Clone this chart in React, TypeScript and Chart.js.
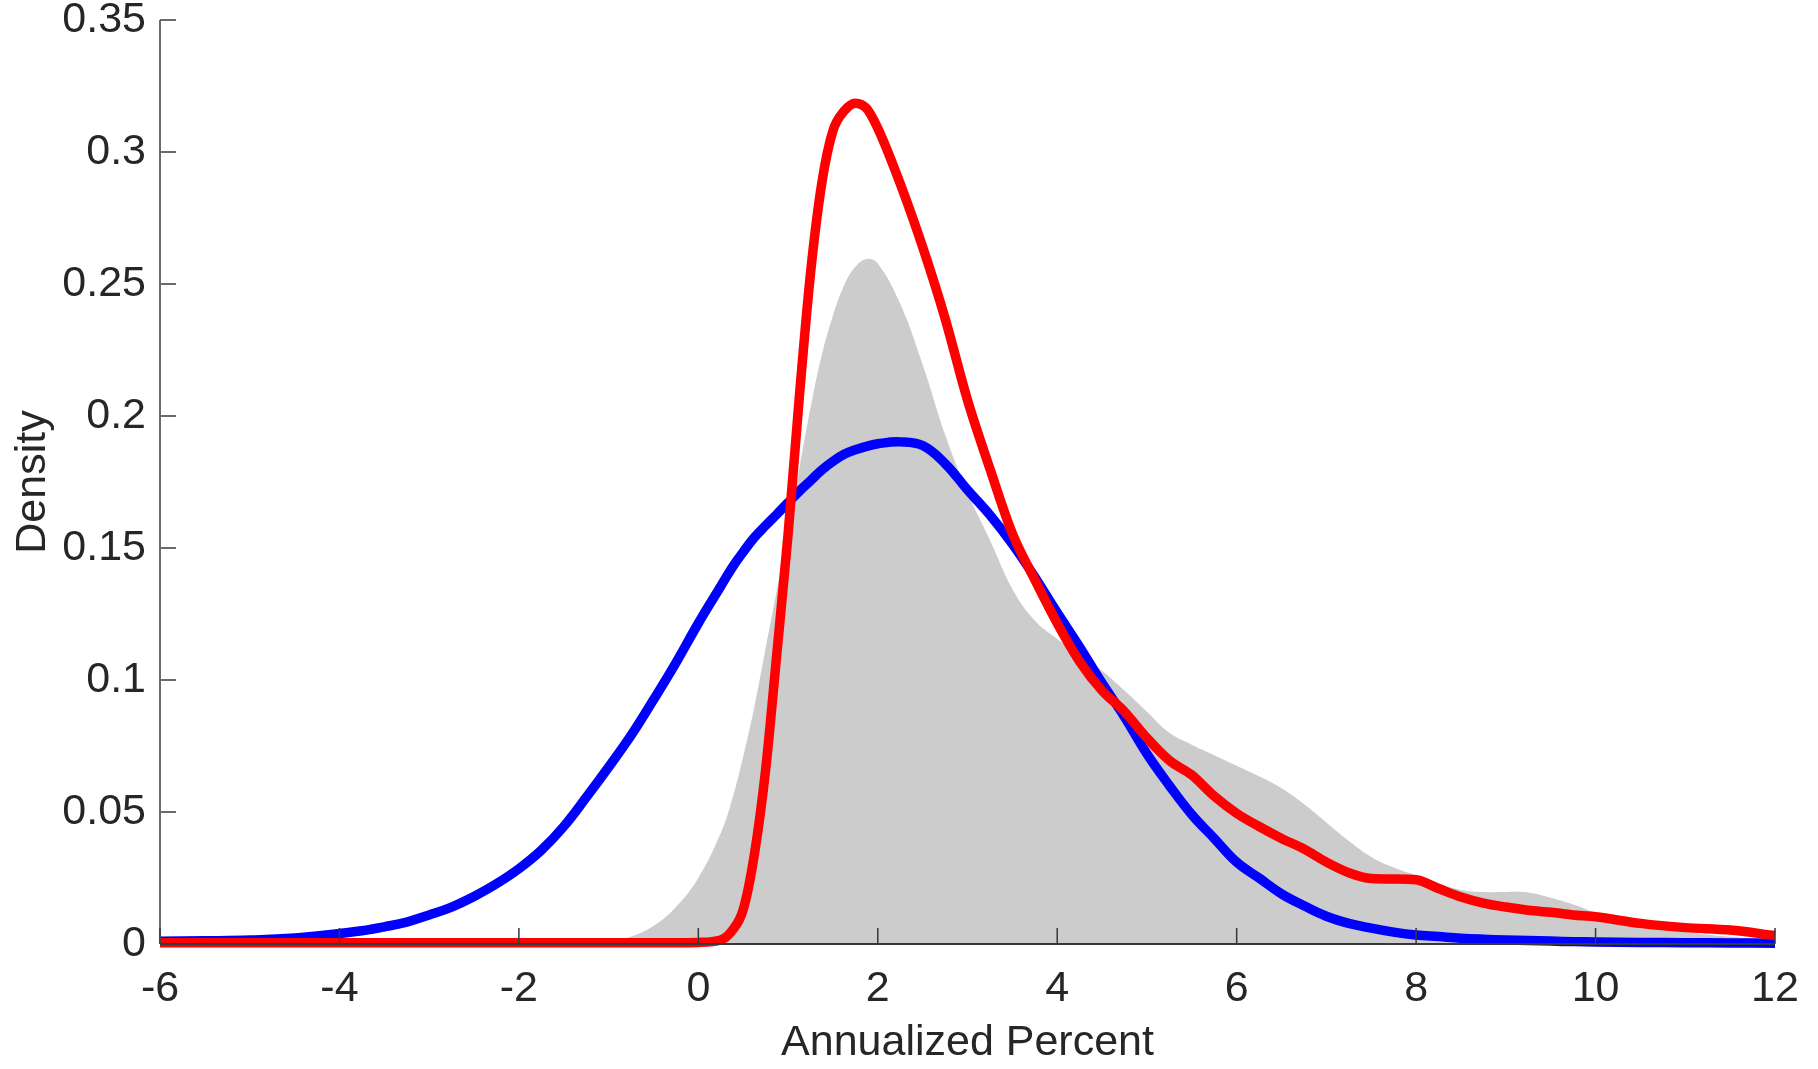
import React, { useEffect, useRef } from "react";
import { Chart, registerables } from "chart.js";

Chart.register(...registerables);

const xValues = [
  -6, -5.5, -5, -4.5,
  -4, -3.75, -3.5, -3.25, -3, -2.75, -2.5, -2.25, -2, -1.75, -1.5, -1.25,
  -1, -0.75, -0.5, -0.25, 0, 0.25,
  0.375, 0.5, 0.625, 0.75, 0.875, 1, 1.125, 1.25, 1.375, 1.5, 1.625, 1.75, 1.875,
  2, 2.25, 2.5, 2.75, 3, 3.25, 3.5, 3.75, 4, 4.25, 4.5, 4.75, 5, 5.25, 5.5, 5.75,
  6, 6.25, 6.5, 6.75, 7, 7.25, 7.5, 7.75, 8, 8.25, 8.5, 8.75, 9, 9.25, 9.5, 9.75, 10,
  10.5, 11, 11.5, 12,
];

const grayDensity = [
  0, 0, 0, 0,
  0, 0, 0, 0, 0, 0, 0, 0, 0, 0, 0.0001, 0.0003,
  0.0009, 0.0028, 0.0068, 0.014, 0.025, 0.042,
  0.0545, 0.071, 0.09, 0.112, 0.134, 0.156, 0.18, 0.203, 0.223, 0.238, 0.2495, 0.2565, 0.2595,
  0.2578, 0.2425, 0.2195, 0.193, 0.171, 0.153, 0.1345, 0.1225, 0.1155, 0.1095, 0.1035, 0.096, 0.088, 0.08, 0.0755, 0.0715,
  0.0675, 0.0635, 0.059, 0.053, 0.046, 0.039, 0.033, 0.029, 0.026, 0.023, 0.0205, 0.0197, 0.0197, 0.0195, 0.0175, 0.015, 0.012,
  0.0075, 0.0045, 0.0027, 0.0015,
];

const blueDensity = [
  0.001, 0.0012, 0.0015, 0.0023,
  0.004, 0.005, 0.0065, 0.0083, 0.011, 0.014, 0.018, 0.0228, 0.0285, 0.0355, 0.0445, 0.0555,
  0.067, 0.079, 0.0925, 0.1065, 0.1215, 0.1355,
  0.1425, 0.1485, 0.154, 0.1585, 0.1628, 0.1672, 0.1715, 0.1755, 0.1795, 0.1828, 0.1855, 0.1872, 0.1885,
  0.1895, 0.1902, 0.1888, 0.182, 0.172, 0.1625, 0.1515, 0.139, 0.1255, 0.1125, 0.0988, 0.086, 0.072, 0.06, 0.049, 0.04,
  0.031, 0.025, 0.019, 0.0145, 0.0105, 0.0078, 0.006, 0.0045, 0.0034, 0.0028, 0.0022, 0.0018, 0.0015, 0.0013, 0.0011, 0.0009, 0.0008,
  0.0006, 0.0005, 0.0004, 0.0003,
];

const redDensity = [
  0.0005, 0.0005, 0.0005, 0.0005,
  0.0005, 0.0005, 0.0005, 0.0005, 0.0005, 0.0005, 0.0005, 0.0005, 0.0005, 0.0005, 0.0005, 0.0005,
  0.0005, 0.0005, 0.0005, 0.0005, 0.0006, 0.0015,
  0.005, 0.013, 0.034, 0.066, 0.11, 0.155, 0.207, 0.254, 0.288, 0.308, 0.3155, 0.3185, 0.3165,
  0.309, 0.288, 0.264, 0.237, 0.206, 0.18, 0.1555, 0.138, 0.1215, 0.107, 0.096, 0.088, 0.078, 0.0695, 0.064, 0.056,
  0.0495, 0.0445, 0.04, 0.036, 0.031, 0.027, 0.0248, 0.0246, 0.0243, 0.021, 0.0178, 0.0155, 0.014, 0.0128, 0.012, 0.011, 0.0103,
  0.0078, 0.0062, 0.0053, 0.0032,
];

const xTicks = [-6, -4, -2, 0, 2, 4, 6, 8, 10, 12];
const xTickLabels = ["-6", "-4", "-2", "0", "2", "4", "6", "8", "10", "12"];
const yTicks = [0, 0.05, 0.1, 0.15, 0.2, 0.25, 0.3, 0.35];
const yTickLabels = ["0", "0.05", "0.1", "0.15", "0.2", "0.25", "0.3", "0.35"];

const xTitle = "Annualized Percent";
const yTitle = "Density";

const FONT = "'Liberation Sans', Arial, Helvetica, sans-serif";
const TEXT = "#262626";

const toPoints = (ys: number[]) => xValues.map((x, i) => ({ x, y: ys[i] }));

const axesPlugin = {
  id: "matlabAxes",
  afterDatasetsDraw(chart: any) {
    const { ctx, chartArea, scales } = chart;
    const { left, right, top, bottom } = chartArea;
    const tickLen = 16;
    ctx.save();
    // y axis
    ctx.strokeStyle = "#6a6a6a";
    ctx.lineWidth = 2;
    ctx.beginPath();
    ctx.moveTo(left, top);
    ctx.lineTo(left, bottom);
    for (const v of yTicks) {
      const y = scales.y.getPixelForValue(v);
      ctx.moveTo(left, y);
      ctx.lineTo(left + tickLen, y);
    }
    ctx.stroke();
    // x axis
    ctx.strokeStyle = "#383838";
    ctx.lineWidth = 2;
    ctx.beginPath();
    ctx.moveTo(left, bottom);
    ctx.lineTo(right, bottom);
    ctx.stroke();
    ctx.lineWidth = 1.5;
    ctx.beginPath();
    for (const v of xTicks) {
      const x = scales.x.getPixelForValue(v);
      ctx.moveTo(x, bottom);
      ctx.lineTo(x, bottom - tickLen);
    }
    ctx.stroke();
    ctx.restore();
  },
};

export default function App() {
  const canvasRef = useRef<HTMLCanvasElement | null>(null);

  useEffect(() => {
    const canvas = canvasRef.current;
    if (!canvas) return;
    const chart = new Chart(canvas, {
      type: "line",
      data: {
        datasets: [
          {
            label: "red",
            data: toPoints(redDensity),
            borderColor: "#ff0000",
            borderWidth: 9.5,
            pointRadius: 0,
            fill: false,
            cubicInterpolationMode: "monotone",
            clip: false,
            order: 1,
          },
          {
            label: "blue",
            data: toPoints(blueDensity),
            borderColor: "#0000ff",
            borderWidth: 9.5,
            pointRadius: 0,
            fill: false,
            tension: 0.4,
            clip: false,
            order: 2,
          },
          {
            label: "gray",
            data: toPoints(grayDensity),
            borderColor: "rgba(0,0,0,0)",
            backgroundColor: "#cccccc",
            borderWidth: 0,
            pointRadius: 0,
            fill: "origin",
            tension: 0.4,
            order: 3,
          },
        ],
      },
      options: {
        animation: false,
        responsive: false,
        devicePixelRatio: 1,
        events: [],
        layout: { padding: { top: 20, right: 43, left: 0, bottom: 0 } },
        plugins: {
          legend: { display: false },
          tooltip: { enabled: false },
        },
        scales: {
          x: {
            type: "linear",
            min: -6,
            max: 12,
            grid: { display: false, drawTicks: false },
            border: { display: false },
            afterBuildTicks: (scale: any) => {
              scale.ticks = xTicks.map((v) => ({ value: v }));
            },
            afterFit: (scale: any) => {
              scale.height = 125;
              scale.paddingLeft = 0;
              scale.paddingRight = 0;
            },
            ticks: {
              autoSkip: false,
              maxRotation: 0,
              padding: 19,
              color: TEXT,
              font: { family: FONT, size: 43 },
              callback: (v: any) => xTickLabels[xTicks.indexOf(Number(v))] ?? "",
            },
            title: {
              display: true,
              text: xTitle,
              color: TEXT,
              font: { family: FONT, size: 43 },
              padding: { top: 0, bottom: 0 },
            },
          },
          y: {
            type: "linear",
            min: 0,
            max: 0.35,
            grid: { display: false, drawTicks: false },
            border: { display: false },
            afterBuildTicks: (scale: any) => {
              scale.ticks = yTicks.map((v) => ({ value: v }));
            },
            afterFit: (scale: any) => {
              scale.width = 160;
              scale.paddingTop = 0;
              scale.paddingBottom = 0;
            },
            ticks: {
              autoSkip: false,
              padding: 14,
              color: TEXT,
              font: { family: FONT, size: 43 },
              callback: (v: any) => {
                const i = yTicks.findIndex((t) => Math.abs(t - Number(v)) < 1e-9);
                return i >= 0 ? yTickLabels[i] : "";
              },
            },
            title: {
              display: true,
              text: yTitle,
              color: TEXT,
              font: { family: FONT, size: 43 },
              padding: { top: 7, bottom: 0 },
            },
          },
        },
      },
      plugins: [axesPlugin],
    });
    return () => chart.destroy();
  }, []);

  return (
    <div style={{ position: "absolute", left: 0, top: 0, width: 1818, height: 1069, background: "#ffffff" }}>
      <canvas ref={canvasRef} width={1818} height={1069} style={{ display: "block" }} />
    </div>
  );
}
